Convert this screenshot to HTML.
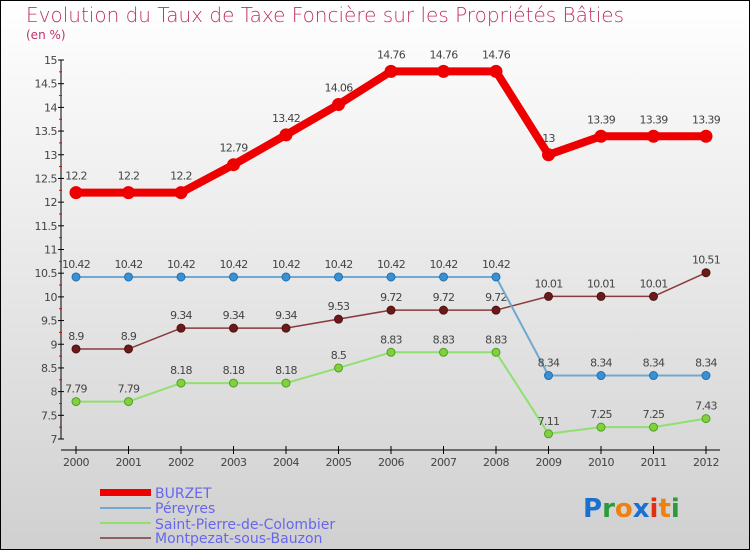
<!DOCTYPE html>
<html><head><meta charset="utf-8">
<style>
html,body{margin:0;padding:0}
body{width:750px;height:550px;overflow:hidden;font-family:"DejaVu Sans","Liberation Sans",sans-serif}
</style></head>
<body>
<svg id="chart" width="750" height="550" xmlns="http://www.w3.org/2000/svg">
<defs>
<linearGradient id="bg" x1="0" y1="0" x2="0" y2="1">
<stop offset="0" stop-color="#ffffff"/><stop offset="1" stop-color="#d0d0d0"/>
</linearGradient>
</defs>
<rect x="0.5" y="0.5" width="749" height="549" fill="url(#bg)" stroke="#000" stroke-width="1"/>
<text x="26" y="22" font-size="20" fill="#c0306a" font-weight="200">Evolution du Taux de Taxe Foncière sur les Propriétés Bâties</text>
<text x="26" y="39" font-size="12" fill="#c0306a">(en %)</text>
<g id="axes"></g>
<g id="series"></g>
<g id="legend">
<rect x="100" y="489" width="51" height="7" fill="#e00"/>
<text x="155" y="498" font-size="14" fill="#6666ee">BURZET</text>
<rect x="100" y="507" width="51" height="2" fill="#6fa8d0"/>
<text x="155" y="513" font-size="14" fill="#6666ee">Péreyres</text>
<rect x="100" y="522" width="51" height="2" fill="#90e070"/>
<text x="155" y="529" font-size="14" fill="#6666ee">Saint-Pierre-de-Colombier</text>
<rect x="100" y="537" width="51" height="2" fill="#906060"/>
<text x="155" y="543" font-size="14" fill="#6666ee">Montpezat-sous-Bauzon</text>
</g>
<g font-size="26" font-family="DejaVu Sans,sans-serif" font-weight="bold">
<text x="583" y="517"><tspan fill="#1a70d0">P</tspan><tspan fill="#2a9a3a">r</tspan><tspan fill="#f08010">o</tspan><tspan fill="#1a70d0">x</tspan><tspan fill="#e03010">i</tspan><tspan fill="#f08010">t</tspan><tspan fill="#2a9a3a">i</tspan></text>
</g>
</svg>
<script>
const years = [2000,2001,2002,2003,2004,2005,2006,2007,2008,2009,2010,2011,2012];
const burzet = [12.2,12.2,12.2,12.79,13.42,14.06,14.76,14.76,14.76,13,13.39,13.39,13.39];
const pereyres = [10.42,10.42,10.42,10.42,10.42,10.42,10.42,10.42,10.42,8.34,8.34,8.34,8.34];
const saintPierre = [7.79,7.79,8.18,8.18,8.18,8.5,8.83,8.83,8.83,7.11,7.25,7.25,7.43];
const montpezat = [8.9,8.9,9.34,9.34,9.34,9.53,9.72,9.72,9.72,10.01,10.01,10.01,10.51];
const yTicks = [7,7.5,8,8.5,9,9.5,10,10.5,11,11.5,12,12.5,13,13.5,14,14.5,15];

const NS="http://www.w3.org/2000/svg";
const yMin=7,yMax=15,yTop=60,yBot=439;
const xFirst=76,xLast=706;
function xs(i){return xFirst+(xLast-xFirst)*i/(years.length-1);}
function ys(v){return yBot-(v-yMin)/(yMax-yMin)*(yBot-yTop);}
function mk(tag,attrs,parent){const e=document.createElementNS(NS,tag);for(const k in attrs)e.setAttribute(k,attrs[k]);parent.appendChild(e);return e;}
function fmt(v){return String(v);}
const axes=document.getElementById('axes');
const yAxis=mk('line',{x1:61,y1:yTop,x2:61,y2:yBot,stroke:'#000','stroke-width':1},axes);


yTicks.forEach(t=>{
  const y=ys(t);
  const tk=mk('line',{x1:58,y1:y,x2:64,y2:y,stroke:'#000'},axes);
  
  
  const lb=mk('text',{x:57,y:y+4,'font-size':11,fill:'#444','text-anchor':'end','letter-spacing':'-0.5'},axes);
  lb.textContent=fmt(t);
  
  
  if(t<yMax){
    const m=mk('line',{x1:59,y1:ys(t+0.25),x2:62,y2:ys(t+0.25),stroke:'#e00'},axes);
    
    
  }
});
const xAxis=mk('line',{x1:61,y1:450,x2:720,y2:450,stroke:'#000'},axes);


years.forEach((yr,i)=>{
  const x=xs(i);
  const tk=mk('line',{x1:x,y1:446,x2:x,y2:454,stroke:'#000'},axes);
  
  
  const lb=mk('text',{x:x,y:466,'font-size':11,fill:'#444','text-anchor':'middle','letter-spacing':'-0.5'},axes);
  lb.textContent=yr;
  
  
});
const sg=document.getElementById('series');
function drawSeries(vals,name,color,dot,width,r,ptStroke){
  const g=mk('g',{},sg);
  
  
  const pts=vals.map((v,i)=>xs(i)+','+ys(v)).join(' ');
  const pl=mk('polyline',{points:pts,fill:'none',stroke:color,'stroke-width':width,'stroke-linejoin':'round'},g);
  
  
  vals.forEach((v,i)=>{
    const c=mk('circle',{cx:xs(i),cy:ys(v),r:r,fill:dot,stroke:ptStroke,'stroke-width':1},g);
    
    
    const t=mk('text',{x:xs(i),y:ys(v)-(width>3?13:9),'font-size':11,fill:'#444','text-anchor':'middle','letter-spacing':'-0.7'},g);
    t.textContent=fmt(v);
    
    
  });
}
drawSeries(saintPierre,'saint-pierre','#90e070','#80d040',2,4,'#50a020');
drawSeries(montpezat,'montpezat','#8a3a3a','#6a1a1a',1.5,4,'#501010');
drawSeries(pereyres,'pereyres','#6fa8d0','#3a90d0',2,4,'#2070b0');
drawSeries(burzet,'burzet','#e00','#e00',8,6,'#e00');
</script>
</body></html>
